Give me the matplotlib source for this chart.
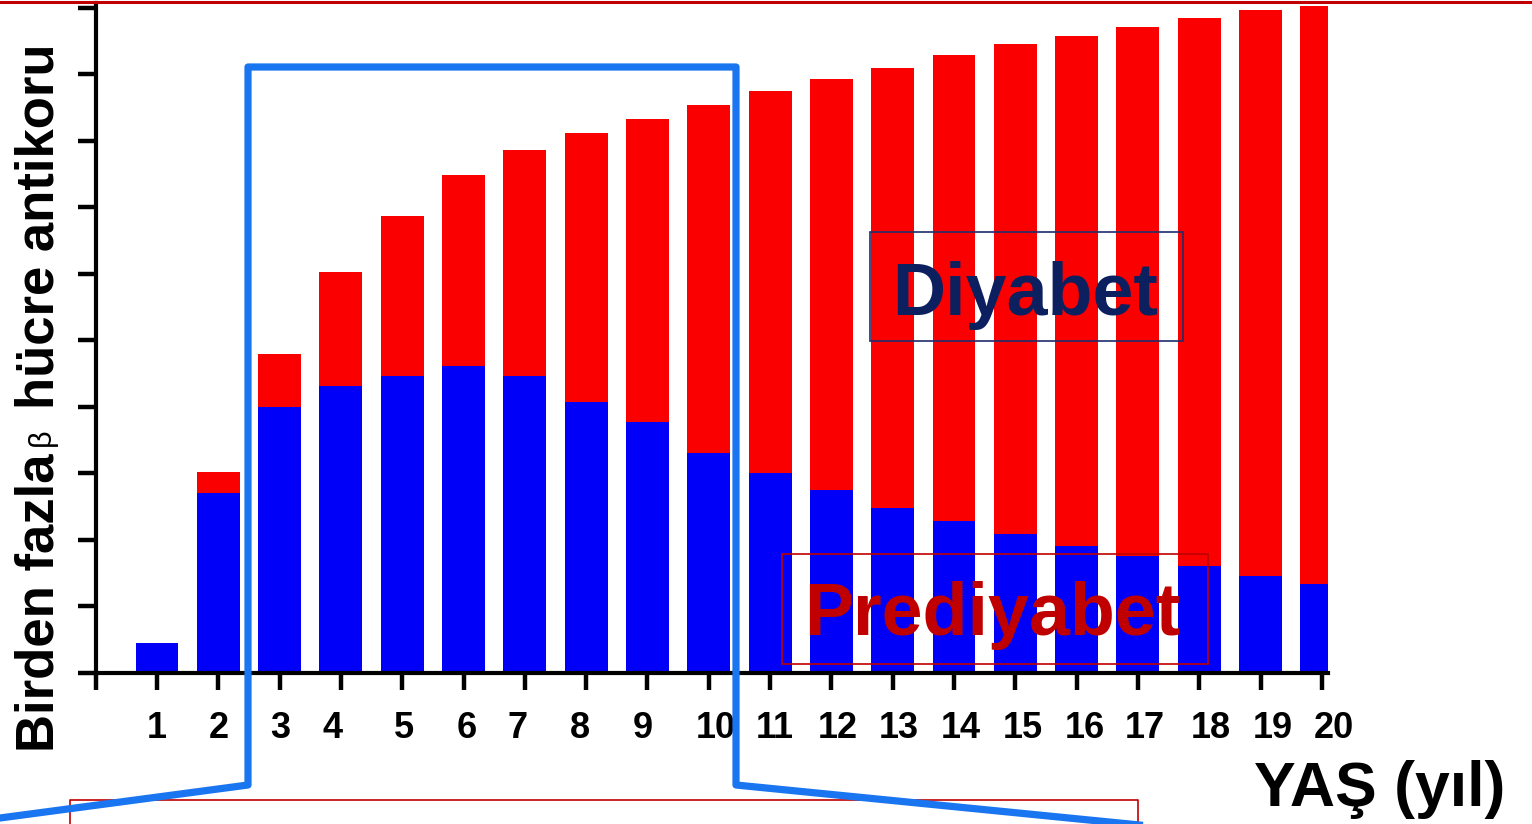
import matplotlib
matplotlib.use("Agg")
import matplotlib.pyplot as plt
from matplotlib.lines import Line2D
from matplotlib.patches import Rectangle
from matplotlib.transforms import Affine2D, ScaledTranslation

# ---- data ----
ages = list(range(1, 21))
age_labels = [str(a) for a in ages]
prediyabet = [0.45, 2.71, 4.00, 4.32, 4.47, 4.62, 4.47, 4.08, 3.77, 3.31,
              3.01, 2.75, 2.48, 2.29, 2.09, 1.91, 1.76, 1.61, 1.46, 1.34]
diyabet = [0.00, 0.31, 0.80, 1.71, 2.40, 2.87, 3.39, 4.03, 4.56, 5.23,
           5.73, 6.18, 6.62, 7.00, 7.37, 7.67, 7.95, 8.24, 8.51, 8.69]
y_ticks = list(range(0, 11))

y_label_a = "Birden fazla"
y_label_beta = "β"
y_label_b = "hücre antikoru"
x_label = "YAŞ (yıl)"
label_diyabet = "Diyabet"
label_prediyabet = "Prediyabet"

# small horizontal offsets (px) of the tick labels, as laid out in the original
label_dx_px = [0, 0, 1, -8, 2, 3, -7, -6, -5, 7, 5, 6, 6, 7, 7, 8, 7, 12, 12, 12]

FONT = "Liberation Sans"
plt.rcParams['font.family'] = [FONT, 'DejaVu Sans']

W, H = 1532, 824
fig = plt.figure(figsize=(W / 100, H / 100), dpi=100)
fig.patch.set_facecolor("white")

# pixel (from top-left) -> figure transform
px = Affine2D().scale(1 / W, -1 / H).translate(0, 1) + fig.transFigure

ax_left, ax_right, ax_base, ax_top = 95.7, 1328, 673, 3
ax = fig.add_axes([ax_left / W, (H - ax_base) / H,
                   (ax_right - ax_left) / W, (ax_base - ax_top) / H])

BLUE = "#0000F8"
RED = "#FA0000"
ax.bar(ages, prediyabet, width=0.70, color=BLUE, linewidth=0, zorder=2)
ax.bar(ages, diyabet, width=0.70, bottom=prediyabet, color=RED, linewidth=0, zorder=2)

ax.set_xlim(0, 20.1)
ax.set_ylim(0, 10.07)

for s in ["top", "right"]:
    ax.spines[s].set_visible(False)
for s in ["left", "bottom"]:
    ax.spines[s].set_linewidth(3.0)
    ax.spines[s].set_color("black")
    ax.spines[s].set_zorder(3)

ax.set_xticks([0] + ages)
ax.set_xticklabels([""] + age_labels, fontsize=26, fontweight="bold", family=FONT)
ax.set_yticks(y_ticks)
ax.set_yticklabels([])
ax.tick_params(axis="x", direction="out", length=12, width=3.2, pad=15, colors="black")
ax.tick_params(axis="y", direction="out", length=13, width=3.2, colors="black")
ax.set_facecolor("white")

for lab, dx in zip(ax.get_xticklabels()[1:], label_dx_px):
    lab.set_transform(lab.get_transform() + ScaledTranslation(dx / 100, 0, fig.dpi_scale_trans))

# ---- y label (three pieces, rotated) ----
fig.text(54, 752, y_label_a, transform=px, rotation=90, rotation_mode="anchor",
         ha="left", va="baseline", fontsize=38, fontweight="bold", family=FONT)
fig.text(50, 446, y_label_beta, transform=px, rotation=90, rotation_mode="anchor",
         ha="left", va="baseline", fontsize=22, fontweight="normal", family=FONT)
fig.text(54, 409, y_label_b, transform=px, rotation=90, rotation_mode="anchor",
         ha="left", va="baseline", fontsize=38, fontweight="bold", family=FONT)

# ---- x label ----
fig.text(1254, 806, x_label, transform=px, ha="left", va="baseline",
         fontsize=45, fontweight="bold", family=FONT)

# ---- annotation boxes ----
NAVY = "#0C1F5E"
DRED = "#C00000"
fig.add_artist(Rectangle((870, 232), 313, 109, transform=px, fill=False,
                         edgecolor="#1F2D6B", linewidth=1.2, zorder=6))
fig.text(1025, 315, label_diyabet, transform=px, ha="center", va="baseline",
         fontsize=53, fontweight="bold", color=NAVY, family=FONT, zorder=7)
fig.add_artist(Rectangle((782, 554), 426, 110, transform=px, fill=False,
                         edgecolor=DRED, linewidth=1.2, zorder=6))
fig.text(992, 635, label_prediyabet, transform=px, ha="center", va="baseline",
         fontsize=53, fontweight="bold", color=DRED, family=FONT, zorder=7)

# ---- slide decorations ----
fig.add_artist(Line2D([0, W], [2, 2], transform=px, color=DRED, linewidth=2.2, zorder=8))
fig.add_artist(Line2D([70, 70, 1138, 1138], [830, 800, 800, 830], transform=px,
                      color=DRED, linewidth=1.2, zorder=8))
fig.add_artist(Line2D([0, 248, 248, 736, 736, 1220], [818, 785, 67, 67, 785, 833],
                      transform=px, color="#1A75F0", linewidth=5.2,
                      solid_joinstyle="round", zorder=9))

fig.savefig("out.png", dpi=100, facecolor="white")
